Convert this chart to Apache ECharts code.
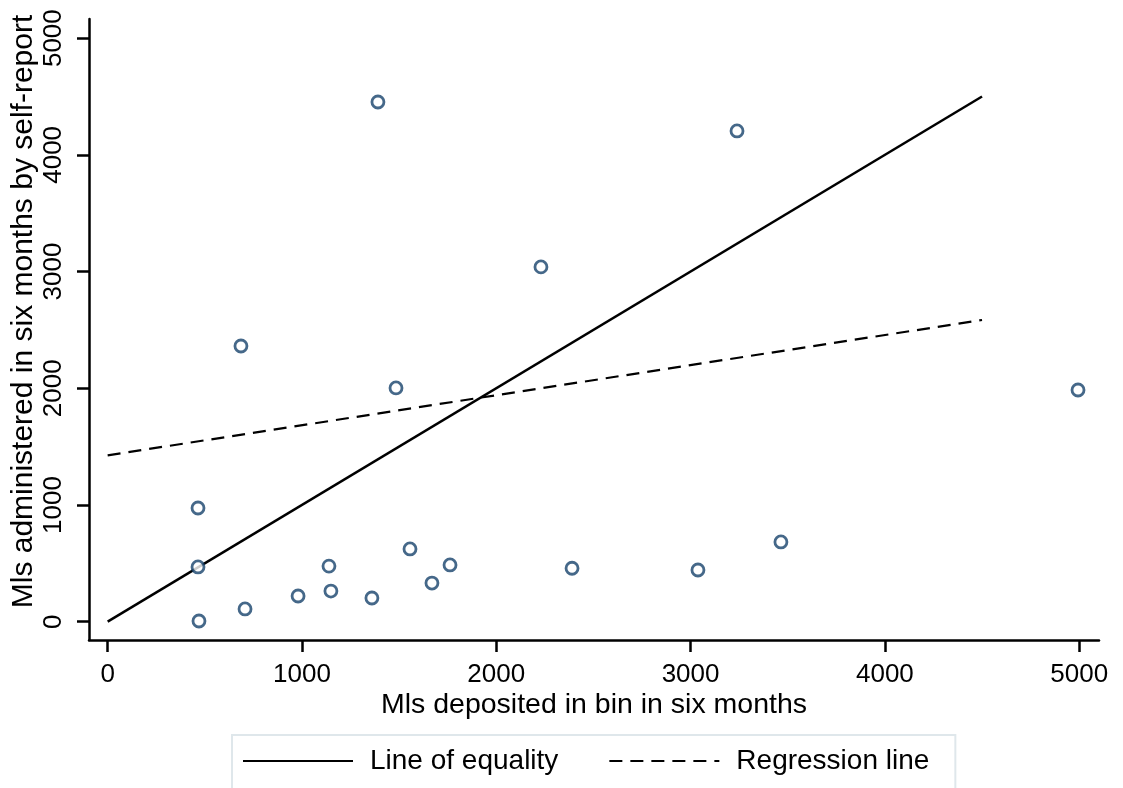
<!DOCTYPE html>
<html>
<head>
<meta charset="utf-8">
<script src="https://cdn.jsdelivr.net/npm/echarts@6/dist/echarts.min.js"></script>
<style>
html,body{margin:0;padding:0;background:#fff;}
#chart{width:1123px;height:788px;}
</style>
</head>
<body>
<div id="chart"></div>
<script>
// Data
var depositedMl = [1391, 3239, 2230, 686, 1484, 4994, 465, 465, 470, 707, 980, 1139, 1149, 1360, 1556, 1669, 1762, 2390, 3038, 3465];
var selfReportMl = [4453, 4205, 3040, 2362, 2003, 1985, 974, 469, 6, 109, 220, 476, 262, 203, 623, 331, 486, 458, 443, 683];
var equalityX = [0, 4500];
var equalityY = [0, 4500];
var regressionX = [0, 4500];
var regressionY = [1425, 2585];
var xTicks = [0, 1000, 2000, 3000, 4000, 5000];
var yTicks = [0, 1000, 2000, 3000, 4000, 5000];
var seriesNames = ['Line of equality', 'Regression line'];
var xTitle = 'Mls deposited in bin in six months';
var yTitle = 'Mls administered in six months by self-report';

function zip(a, b) { return a.map(function (v, i) { return [v, b[i]]; }); }
function plain(v) { return String(v); }

var FONT = 'Liberation Sans, Arial, sans-serif';
var chart = echarts.init(document.getElementById('chart'), null, {renderer: 'canvas'});
chart.setOption({
  backgroundColor: '#ffffff',
  animation: false,
  grid: {left: 89, right: 24, top: 19, bottom: 148, containLabel: false, outerBoundsMode: 'none'},
  xAxis: {
    type: 'value', min: -96, max: 5102,
    splitLine: {show: false},
    axisLine: {show: true, onZero: false, lineStyle: {color: '#000', width: 2.5}},
    axisTick: {show: true, customValues: xTicks, length: 12, lineStyle: {color: '#000', width: 2.5}},
    axisLabel: {customValues: xTicks, formatter: plain, margin: 22, color: '#000', fontSize: 26, fontFamily: FONT},
    name: xTitle, nameLocation: 'middle', nameGap: 51, nameMoveOverlap: false,
    nameTextStyle: {color: '#000', fontSize: 28.5, fontFamily: FONT}
  },
  yAxis: {
    type: 'value', min: -157, max: 5164,
    splitLine: {show: false},
    axisLine: {show: true, onZero: false, lineStyle: {color: '#000', width: 2.5}},
    axisTick: {show: true, customValues: yTicks, length: 12, lineStyle: {color: '#000', width: 2.5}},
    axisLabel: {customValues: yTicks, formatter: plain, rotate: 90, margin: 22, color: '#000', fontSize: 26, fontFamily: FONT},
    name: yTitle, nameLocation: 'middle', nameGap: 50, nameRotate: 90, nameMoveOverlap: false,
    nameTextStyle: {color: '#000', fontSize: 30, fontFamily: FONT, padding: [0, 0, 0, 36]}
  },
  legend: {
    data: seriesNames,
    left: 232, top: 735,
    padding: [12, 26, 14, 10],
    itemGap: 50,
    itemWidth: 110, itemHeight: 14,
    itemStyle: {opacity: 0},
    borderColor: '#dfe7eb', borderWidth: 2,
    textStyle: {color: '#000', fontSize: 28, fontFamily: FONT, padding: [0, 0, 0, 12]}
  },
  series: [
    {
      type: 'scatter', name: 'points',
      data: zip(depositedMl, selfReportMl),
      symbol: 'circle', symbolSize: 12,
      itemStyle: {color: '#ffffff', borderColor: '#16426b', borderWidth: 2.8},
      z: 3
    },
    {
      type: 'line', name: seriesNames[0],
      data: zip(equalityX, equalityY),
      symbol: 'none', color: '#000',
      lineStyle: {color: '#000', width: 2.5, type: 'solid'}
    },
    {
      type: 'line', name: seriesNames[1],
      data: zip(regressionX, regressionY),
      symbol: 'none', color: '#000',
      lineStyle: {color: '#000', width: 2.2, type: [13, 8]}
    }
  ]
});
</script>
</body>
</html>
